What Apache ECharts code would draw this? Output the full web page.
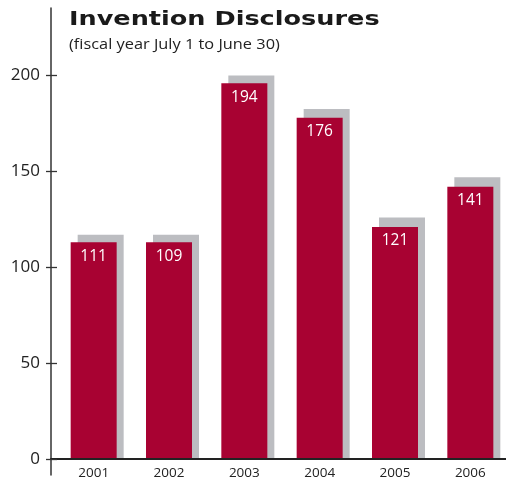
<!DOCTYPE html>
<html><head><meta charset="utf-8">
<script src="https://cdn.jsdelivr.net/npm/echarts@6/dist/echarts.min.js"></script>
<style>html,body{margin:0;padding:0;background:#fff}#c{width:506px;height:479px}</style>
</head><body><div id="c"></div>
<script>
// Data
const years = ['2001', '2002', '2003', '2004', '2005', '2006'];
const disclosures = [111, 109, 194, 176, 121, 141];      // printed values
const barHeights = [113, 113, 196, 178, 121, 142];       // red bar heights as drawn
const shadowHeights = [117, 117, 200, 182.5, 126, 147];  // grey backdrop heights as drawn
const yTicks = [0, 50, 100, 150, 200];
const titleText = 'Invention Disclosures';
const subtitleText = '(fiscal year July 1 to June 30)';

const Y_MIN = -8.3, Y_MAX = 235.2;
const RED = '#a80232', GREY = '#bcbdc1', INK = '#222';

const chart = echarts.init(document.getElementById('c'), null, {renderer: 'canvas'});
const gridBase = {top: 8, containLabel: false, outerBoundsMode: 'none'};
chart.setOption({
  animation: false,
  backgroundColor: '#fff',
  graphic: [
    {type: 'text', x: 69, y: 20, scaleX: 1.31, z: 20,
     style: {text: titleText, font: 'bold 19.5px "DejaVu Sans"', fill: '#1a1a1a',
             align: 'left', verticalAlign: 'middle'}},
    {type: 'text', x: 69, y: 45, scaleX: 1.09, z: 20,
     style: {text: subtitleText, font: '15px "Open Sans"', fill: INK,
             align: 'left', verticalAlign: 'middle'}}
  ],
  grid: [
    Object.assign({left: 51, right: 0, bottom: 4}, gridBase),
    Object.assign({left: 56, width: 452, bottom: 20}, gridBase),
    Object.assign({left: 63, width: 452, bottom: 20}, gridBase)
  ],
  xAxis: [
    {type: 'category', data: years, gridIndex: 0, z: 10,
     axisLine: {show: true, onZero: true, onZeroAxisIndex: 0, lineStyle: {color: INK, width: 2}},
     axisTick: {show: false}, axisLabel: {show: false}},
    {type: 'category', data: years, gridIndex: 1,
     axisLine: {show: false, onZero: false},
     axisTick: {show: false},
     axisLabel: {show: true, margin: 7, fontFamily: 'Open Sans', fontSize: 13.5, color: INK}},
    {type: 'category', data: years, gridIndex: 2, show: false}
  ],
  yAxis: [
    {type: 'value', min: Y_MIN, max: Y_MAX, splitLine: {show: false}, gridIndex: 0, position: 'left', z: 10,
      axisLine: {show: true, lineStyle: {color: '#333', width: 1.5}},
      axisTick: {show: true, length: 5, customValues: yTicks, lineStyle: {color: '#333', width: 1.3}},
      axisLabel: {show: true, customValues: yTicks, margin: 11, fontFamily: 'Open Sans', fontSize: 17, color: INK}},
    {type: 'value', min: 0, max: Y_MAX, gridIndex: 1, show: false, splitLine: {show: false}},
    {type: 'value', min: 0, max: Y_MAX, gridIndex: 2, show: false, splitLine: {show: false}},
    {type: 'value', min: Y_MIN, max: Y_MAX, splitLine: {show: false}, gridIndex: 0, position: 'left', z: 10,
      axisLine: {show: false},
      axisTick: {show: true, inside: true, length: 6, customValues: yTicks, lineStyle: {color: '#333', width: 1.3}},
      axisLabel: {show: false}}
  ],
  series: [
    {type: 'bar', name: 'backdrop', xAxisIndex: 2, yAxisIndex: 2, data: shadowHeights,
     barWidth: 46, z: 2, itemStyle: {color: GREY}, silent: true},
    {type: 'bar', name: 'Invention Disclosures', xAxisIndex: 1, yAxisIndex: 1, data: barHeights,
     barWidth: 46, z: 3, itemStyle: {color: RED},
     label: {show: true, position: 'insideTop', distance: 6, color: '#fff',
             fontFamily: 'Open Sans', fontSize: 15.5,
             formatter: p => String(disclosures[p.dataIndex])}}
  ]
});
</script>
</body></html>
